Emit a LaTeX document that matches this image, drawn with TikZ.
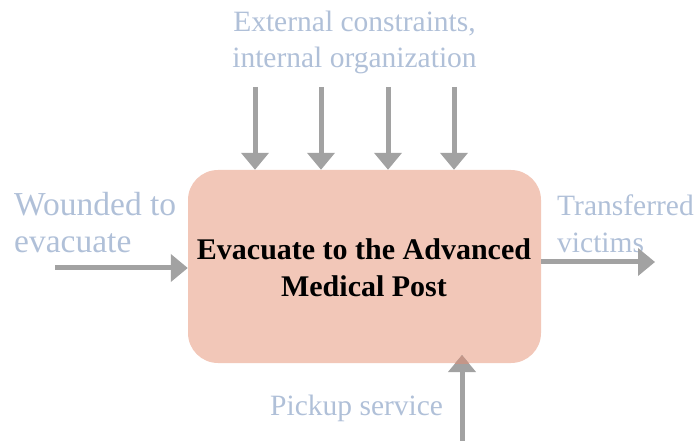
\documentclass[tikz,border=0pt]{standalone}
\usepackage{fontspec}
\setmainfont{Liberation Serif}
\usetikzlibrary{arrows.meta}
\definecolor{boxfill}{RGB}{242,199,184}
\definecolor{arrowgray}{RGB}{162,162,162}
\definecolor{arrowover}{RGB}{196,150,136}
\definecolor{labelblue}{RGB}{176,192,216}
\tikzset{
  flow/.style={draw=arrowgray, line width=5pt, -{Triangle[width=27pt,length=17pt]}},
  lbl/.style={text=labelblue, font=\fontsize{29.5}{36}\selectfont, inner sep=0pt},
  activity/.style={fill=boxfill, rounded corners=30pt, minimum width=353pt, minimum height=193pt, inner sep=0pt},
  title/.style={font=\bfseries\fontsize{30}{37}\selectfont, align=center, inner sep=0pt}
}
\begin{document}
\begin{tikzpicture}[x=1pt,y=-1pt]
\useasboundingbox (0,0) rectangle (697,441);
\node[activity] (box) at (364.5,266.5) {};
\node[title, anchor=base] (name) at (364,297) {Evacuate to the Advanced\\Medical Post};
% top controls
\node[lbl, align=center, anchor=base] (ctrl) at (354.5,68) {External constraints,\\internal organization};
\coordinate (c1) at (255,87);
\coordinate (c2) at (321,87);
\coordinate (c3) at (388,87);
\coordinate (c4) at (454,87);
\draw[flow] (c1) -- (c1 |- box.north);
\draw[flow] (c2) -- (c2 |- box.north);
\draw[flow] (c3) -- (c3 |- box.north);
\draw[flow] (c4) -- (c4 |- box.north);
% input
\node[lbl, font=\fontsize{33.5}{38}\selectfont, align=left, anchor=base west] (inp) at (14,253) {Wounded to\\evacuate};
\coordinate (i0) at (55,268);
\draw[flow] (i0) -- (i0 -| box.west);
% output
\node[lbl, font=\fontsize{29.5}{37}\selectfont, align=left, anchor=base west] (out) at (557,252) {Transferred\\victims};
\coordinate (o1) at (655,262);
\draw[flow] (o1 -| box.east) -- (o1);
% mechanism
\node[lbl, anchor=base west] (mech) at (270,415) {Pickup service};
\coordinate (m0) at (462,441);
\coordinate (m1) at (462,355);
\draw[flow] (m0) -- (m1);
\begin{scope}
  \clip (box.south west) rectangle (box.north east);
  \draw[flow, draw=arrowover] (m0) -- (m1);
\end{scope}
\end{tikzpicture}
\end{document}
